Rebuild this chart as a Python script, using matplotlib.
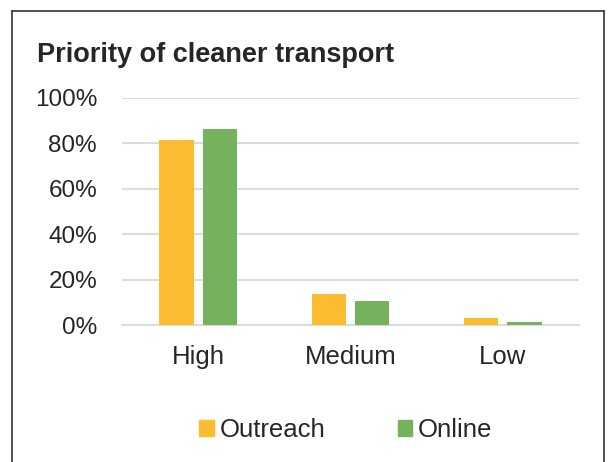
import matplotlib.pyplot as plt
import numpy as np
from matplotlib.lines import Line2D
from matplotlib.patches import Patch

categories = ["High", "Medium", "Low"]
outreach = [81.3, 13.6, 3.3]
online = [86.2, 10.7, 1.3]
series_names = ["Outreach", "Online"]
yticks = [0, 20, 40, 60, 80, 100]

ORANGE = "#fbbc31"
GREEN = "#76b25d"
TEXT = "#262626"
GRID = "#dcdcdc"


def main():
    plt.rcParams["font.family"] = ["Liberation Sans", "DejaVu Sans"]

    fig = plt.figure(figsize=(6.08, 4.62), dpi=100)
    ax = fig.add_axes([0.2007, 0.2959, 0.7513, 0.492])

    x = np.arange(len(categories))
    width = 0.226
    offset = 0.1426
    ax.bar(x - offset, outreach, width, color=ORANGE, zorder=3)
    ax.bar(x + offset, online, width, color=GREEN, zorder=3)

    ax.set_xlim(-0.5, 2.5)
    ax.set_ylim(0, 100)
    ax.set_yticks(yticks)
    ax.set_yticklabels([f"{t}%" for t in yticks])
    ax.set_xticks(x)
    ax.set_xticklabels(categories)

    ax.yaxis.grid(True, color=GRID, linewidth=1.5, zorder=0)
    ax.set_axisbelow(True)
    for side in ["top", "right", "left"]:
        ax.spines[side].set_visible(False)
    ax.spines["bottom"].set_color(GRID)
    ax.spines["bottom"].set_linewidth(1.5)

    ax.tick_params(axis="y", length=0, pad=18, labelsize=17.5, labelcolor=TEXT)
    ax.tick_params(axis="x", length=0, pad=14, labelsize=18.5, labelcolor=TEXT)

    fig.text(37 / 608, 1 - 55 / 462, "Priority of cleaner transport",
             fontsize=19.5, fontweight="bold", color=TEXT, va="center", ha="left")

    handles = [Patch(color=ORANGE), Patch(color=GREEN)]
    fig.legend(handles, series_names, loc="center", bbox_to_anchor=(346 / 608, 1 - 430 / 462),
               ncol=2, frameon=False, fontsize=18.5, labelcolor=TEXT,
               handlelength=0.55, handleheight=0.55, handletextpad=0.25,
               columnspacing=2.8)

    # frame around the chart (bottom edge is cut off in the image)
    border = dict(color="#333333", linewidth=1.2, transform=fig.transFigure)
    top = 1 - 10.5 / 462
    fig.add_artist(Line2D([11.5 / 608, 11.5 / 608], [0, top], **border))
    fig.add_artist(Line2D([11.5 / 608, 604 / 608], [top, top], **border))
    fig.add_artist(Line2D([604 / 608, 604 / 608], [0, top], **border))

    fig.savefig("out.png", dpi=100)
    plt.close(fig)


if __name__ == "__main__":
    main()
